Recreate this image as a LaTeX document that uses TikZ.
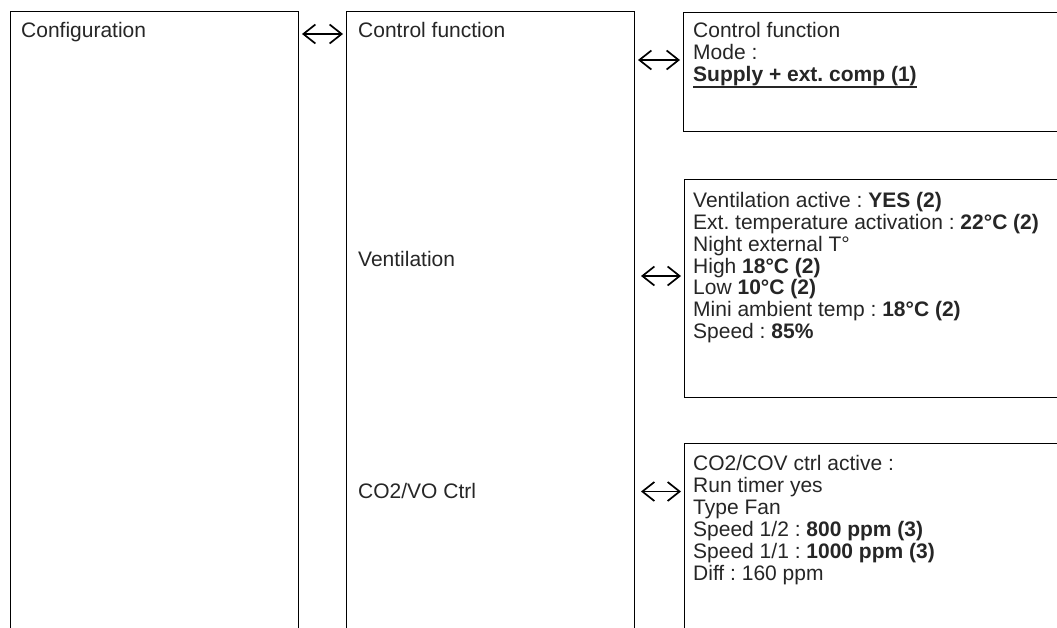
\documentclass[tikz,border=0pt]{standalone}
\usepackage{fontspec}
\setmainfont{Liberation Sans}
\usetikzlibrary{arrows.meta}
\frenchspacing
\tikzset{
  box/.style={draw=black, line width=1.4pt, inner sep=0pt, anchor=north west},
  txt/.style={anchor=base west, inner sep=0pt, text=black!85,
              font=\fontsize{21}{21.7}\selectfont},
  dbl/.style={line width=1.7pt, {Straight Barb[length=12pt,width=19pt]}-{Straight Barb[length=12pt,width=19pt]}}
}
\begin{document}
\begin{tikzpicture}[x=1pt,y=-1pt]
\useasboundingbox (0,0) rectangle (1057,627);
\clip (0,0) rectangle (1057,627);
\fill[white] (0,0) rectangle (1057,627);
% boxes
\node[box, minimum width=288pt, minimum height=700pt] (cfg) at (10,11) {};
\node[box, minimum width=288pt, minimum height=700pt] (ctl) at (346,11) {};
\node[box, minimum width=400pt, minimum height=119.5pt] (r1) at (683,11.5) {};
\node[box, minimum width=400pt, minimum height=218pt] (r2) at (684,179) {};
\node[box, minimum width=400pt, minimum height=300pt] (r3) at (684,443) {};
% left and middle texts
\node[txt] (tcfg) at (21,37.3) {Configuration};
\node[txt] (tctl) at (358,37.3) {Control function};
\node[txt] (tven) at (358,266.7) {Ventilation};
\node[txt] (tco) at (358,498.5) {CO2/VO Ctrl};
% box r1
\node[txt] (r1a) at (693,37.5) {Control function};
\node[txt] (r1b) at (693,59.5) {Mode :};
\node[txt] (r1c) at (693,81.5) {\bfseries Supply + ext. comp (1)};
\draw[line width=1.4pt, black!85] ([yshift=-5.5pt]r1c.base west) -- ([yshift=-5.5pt]r1c.base east);
% box r2
\node[txt] (r2a) at (693,207.7) {Ventilation active : \textbf{YES (2)}};
\node[txt] (r2b) at (693,229.5) {Ext. temperature activation : \textbf{22°C (2)}};
\node[txt] (r2c) at (693,251.2) {Night external T°};
\node[txt] (r2d) at (693,273.0) {High \textbf{18°C (2)}};
\node[txt] (r2e) at (693,294.7) {Low \textbf{10°C (2)}};
\node[txt] (r2f) at (693,316.5) {Mini ambient temp : \textbf{18°C (2)}};
\node[txt] (r2g) at (693,338.2) {Speed : \textbf{85\%}};
% box r3
\node[txt] (r3a) at (693,470.7) {CO2/COV ctrl active :};
\node[txt] (r3b) at (693,492.6) {Run timer yes};
\node[txt] (r3c) at (693,514.5) {Type Fan};
\node[txt] (r3d) at (693,536.4) {Speed 1/2 : \textbf{800 ppm (3)}};
\node[txt] (r3e) at (693,558.3) {Speed 1/1 : \textbf{1000 ppm (3)}};
\node[txt] (r3f) at (693,580.2) {Diff : 160 ppm};
% connectors
\coordinate (a1s) at (302,34);  \coordinate (a1e) at (343,34);
\coordinate (a2s) at (638,60);  \coordinate (a2e) at (680,60);
\coordinate (a3s) at (641,276); \coordinate (a3e) at (681,276);
\coordinate (a4s) at (641,491.5); \coordinate (a4e) at (681,491.5);
\draw[dbl] (a1s) -- (a1e);
\draw[dbl] (a2s) -- (a2e);
\draw[dbl] (a3s) -- (a3e);
\draw[dbl] (a4s) -- (a4e);
\end{tikzpicture}
\end{document}
